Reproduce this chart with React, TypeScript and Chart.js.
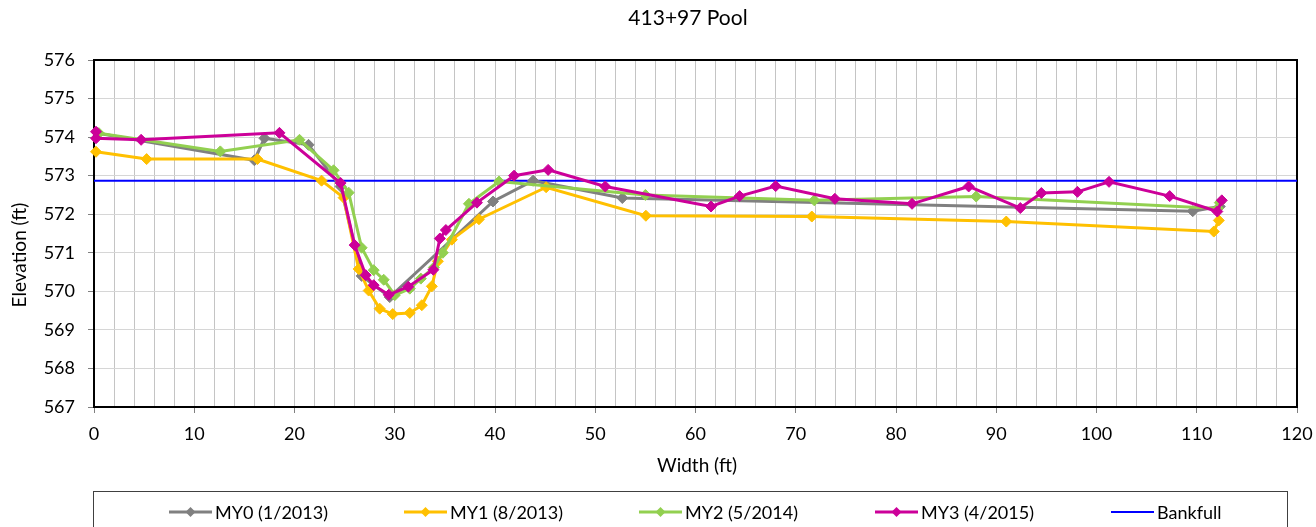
import React, { useEffect, useRef } from "react";
import { Chart, registerables } from "chart.js";

Chart.register(...registerables);

const chartTitle = "413+97 Pool";
const xAxisTitle = "Width (ft)";
const yAxisTitle = "Elevation (ft)";
const seriesNames = ["MY0 (1/2013)", "MY1 (8/2013)", "MY2 (5/2014)", "MY3 (4/2015)", "Bankfull"];
const seriesColors = ["#808080", "#FFC000", "#92D050", "#CC0099", "#0000FF"];

const my0X = [0.4, 16.0, 17.0, 21.4, 24.6, 26.7, 29.5, 39.8, 43.8, 52.7, 109.6, 112.3];
const my0Y = [574.1, 573.4, 573.97, 573.8, 572.72, 570.4, 569.85, 572.33, 572.87, 572.42, 572.08, 572.2];

const my1X = [0.2, 5.25, 16.3, 22.7, 24.9, 26.4, 27.4, 28.5, 29.8, 31.5, 32.7, 33.7, 34.3, 35.7, 38.4, 45.1, 55.05, 71.6, 91.0, 111.7, 112.2];
const my1Y = [573.62, 573.43, 573.43, 572.87, 572.43, 570.58, 570.02, 569.55, 569.41, 569.44, 569.64, 570.13, 570.78, 571.34, 571.87, 572.7, 571.96, 571.94, 571.81, 571.55, 571.84];

const my2X = [0.5, 12.6, 20.5, 23.9, 25.4, 26.7, 27.9, 28.9, 30.0, 31.5, 32.6, 33.9, 34.8, 37.4, 40.4, 55.0, 71.85, 88.0, 112.1, 112.3];
const my2Y = [574.1, 573.63, 573.93, 573.14, 572.56, 571.13, 570.55, 570.3, 569.9, 570.07, 570.33, 570.62, 571.0, 572.27, 572.85, 572.5, 572.36, 572.46, 572.15, 572.3];

const my3X = [0.2, 0.2, 4.7, 18.5, 24.6, 26.0, 27.1, 27.9, 29.4, 31.35, 33.85, 34.5, 35.1, 38.2, 41.9, 45.3, 51.0, 61.55, 64.4, 68.0, 73.9, 81.6, 87.25, 92.4, 94.5, 98.1, 101.25, 107.3, 112.05, 112.5];
const my3Y = [574.14, 573.97, 573.93, 574.11, 572.81, 571.2, 570.42, 570.16, 569.91, 570.12, 570.56, 571.37, 571.59, 572.3, 573.0, 573.15, 572.72, 572.2, 572.47, 572.73, 572.4, 572.27, 572.72, 572.16, 572.55, 572.58, 572.84, 572.47, 572.07, 572.36];

const bankfullX = [0, 120];
const bankfullY = [572.87, 572.87];

const xMin = 0;
const xMax = 120;
const xStep = 2;
const xLabelStep = 10;
const yMin = 567;
const yMax = 576;
const yStep = 1;

const FONT = "Lato, 'Open Sans', sans-serif";

const toPoints = (xs: number[], ys: number[]) => xs.map((x, i) => ({ x, y: ys[i] }));

const seriesX = [my0X, my1X, my2X, my3X, bankfullX];
const seriesY = [my0Y, my1Y, my2Y, my3Y, bankfullY];

function drawDiamond(ctx: CanvasRenderingContext2D, x: number, y: number, r: number, color: string) {
  ctx.beginPath();
  ctx.moveTo(x, y - r);
  ctx.lineTo(x + r, y);
  ctx.lineTo(x, y + r);
  ctx.lineTo(x - r, y);
  ctx.closePath();
  ctx.fillStyle = color;
  ctx.fill();
}

const decorPlugin = {
  id: "decor",
  beforeDatasetsDraw(chart: any) {
    const { ctx, chartArea: a } = chart;
    ctx.save();
    ctx.strokeStyle = "#000000";
    ctx.lineWidth = 2;
    ctx.strokeRect(a.left, a.top, a.right - a.left, a.bottom - a.top);
    ctx.restore();
  },
  afterDraw(chart: any) {
    const ctx: CanvasRenderingContext2D = chart.ctx;
    ctx.save();
    ctx.fillStyle = "#000000";
    ctx.textAlign = "center";
    ctx.textBaseline = "middle";
    ctx.font = `21px ${FONT}`;
    ctx.fillText(chartTitle, 688, 18);
    ctx.font = `19px ${FONT}`;
    ctx.fillText(xAxisTitle, 697, 466);
    ctx.save();
    ctx.translate(20, 255);
    ctx.rotate(-Math.PI / 2);
    ctx.fillText(yAxisTitle, 0, 0);
    ctx.restore();

    // legend box
    ctx.strokeStyle = "#404040";
    ctx.lineWidth = 1;
    ctx.strokeRect(93.5, 491.5, 1194, 60);

    const starts = [169, 404, 639, 875, 1111];
    const lineLen = 43;
    const ly = 512;
    ctx.font = `18px ${FONT}`;
    ctx.textAlign = "left";
    for (let i = 0; i < seriesNames.length; i++) {
      const s = starts[i];
      ctx.strokeStyle = seriesColors[i];
      ctx.lineWidth = i === 4 ? 2 : 3;
      ctx.beginPath();
      ctx.moveTo(s, ly);
      ctx.lineTo(s + lineLen, ly);
      ctx.stroke();
      if (i < 4) drawDiamond(ctx, s + lineLen / 2, ly, 5, seriesColors[i]);
      ctx.fillStyle = "#000000";
      ctx.fillText(seriesNames[i], s + lineLen + 3, ly + 1);
    }
    ctx.restore();
  },
};

export default function App() {
  const canvasRef = useRef<HTMLCanvasElement | null>(null);

  useEffect(() => {
    if (!canvasRef.current) return;
    const datasets: any[] = [];
    for (let i = 0; i < 5; i++) {
      const isBank = i === 4;
      datasets.push({
        label: seriesNames[i],
        data: toPoints(seriesX[i], seriesY[i]),
        showLine: true,
        borderColor: seriesColors[i],
        backgroundColor: seriesColors[i],
        borderWidth: isBank ? 2 : 3,
        pointStyle: "rectRot",
        pointRadius: isBank ? 0 : 5.5,
        pointBorderWidth: 1,
        pointBorderColor: seriesColors[i],
        pointBackgroundColor: seriesColors[i],
        tension: 0,
        clip: false,
        order: isBank ? 10 : 5 - i,
      });
    }

    const chart = new Chart(canvasRef.current, {
      type: "scatter",
      data: { datasets },
      plugins: [decorPlugin],
      options: {
        animation: false,
        responsive: false,
        maintainAspectRatio: false,
        events: [],
        layout: { padding: { left: 0, right: 19, top: 60, bottom: 70 } },
        plugins: {
          legend: { display: false },
          title: { display: false },
          tooltip: { enabled: false },
        },
        scales: {
          x: {
            type: "linear",
            min: xMin,
            max: xMax,
            afterFit: (scale: any) => {
              scale.height = 50;
              scale.paddingLeft = 0;
              scale.paddingRight = 0;
            },
            border: { display: false },
            grid: {
              color: "#c4c4c4",
              lineWidth: 1,
              tickLength: 6,
              tickColor: (ctx: any) => (ctx.tick && ctx.tick.value % xLabelStep === 0 ? "#808080" : "rgba(0,0,0,0)"),
            },
            ticks: {
              stepSize: xStep,
              autoSkip: false,
              maxRotation: 0,
              padding: 10,
              color: "#000000",
              font: { family: FONT, size: 18 },
              callback: (v: any) => (Number(v) % xLabelStep === 0 ? String(v) : ""),
            },
          },
          y: {
            type: "linear",
            min: yMin,
            max: yMax,
            afterFit: (scale: any) => {
              scale.width = 94;
              scale.paddingTop = 0;
              scale.paddingBottom = 0;
            },
            border: { display: false },
            grid: {
              color: "#d6d6d6",
              lineWidth: 1,
              tickLength: 6,
              tickColor: "#808080",
            },
            ticks: {
              stepSize: yStep,
              padding: 13,
              color: "#000000",
              font: { family: FONT, size: 18 },
            },
          },
        },
      } as any,
    });
    return () => chart.destroy();
  }, []);

  return (
    <div style={{ position: "absolute", left: 0, top: 0, width: 1316, height: 527, background: "#ffffff" }}>
      <canvas ref={canvasRef} width={1316} height={527} style={{ display: "block" }} />
    </div>
  );
}
